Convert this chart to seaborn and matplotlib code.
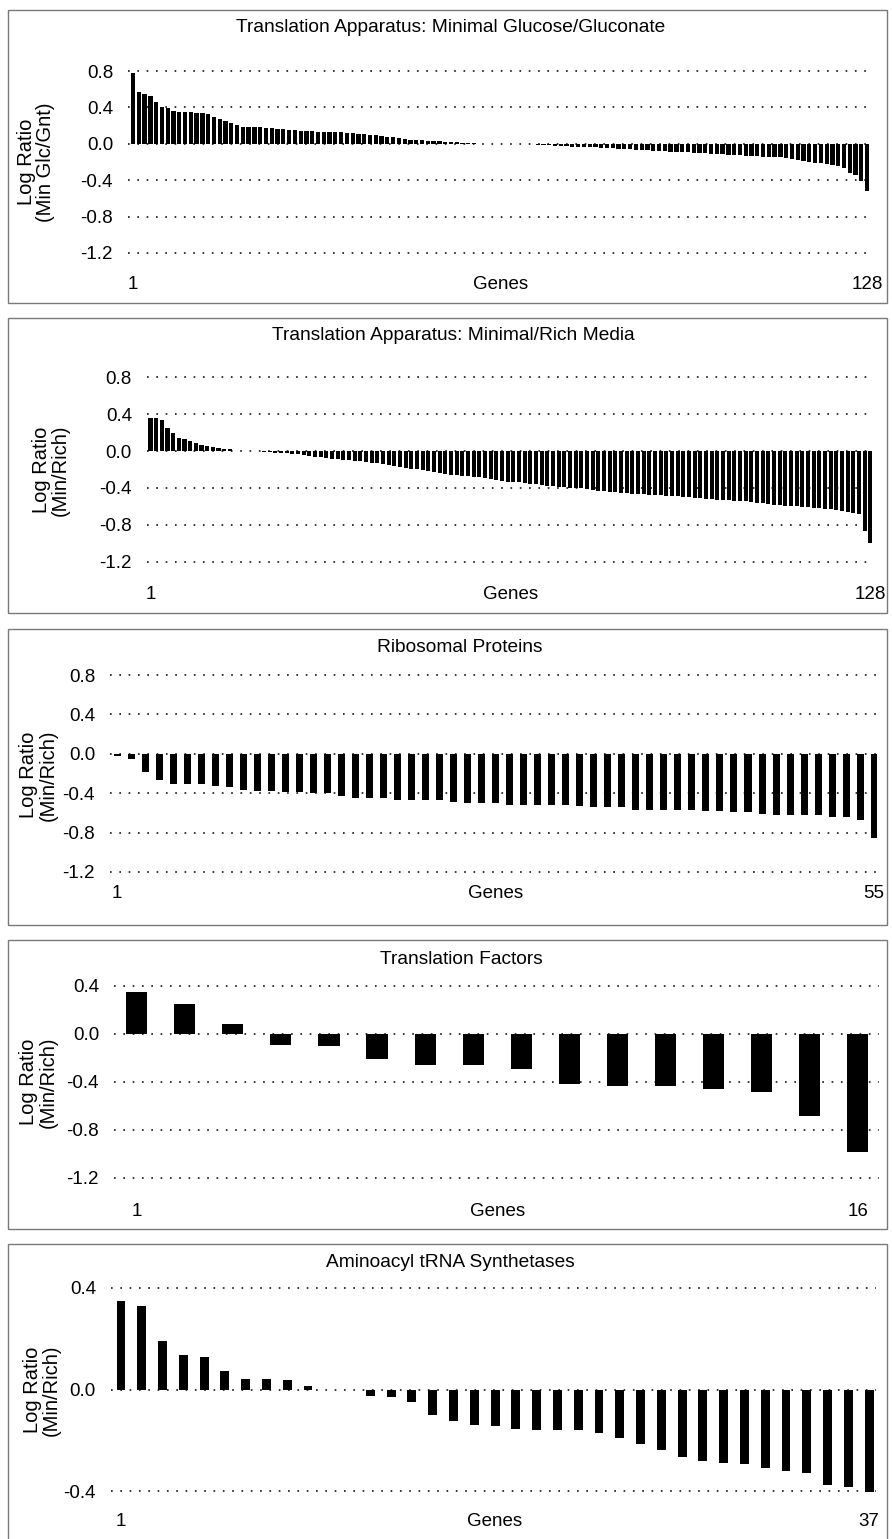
import matplotlib
matplotlib.use('Agg')
import matplotlib.pyplot as plt
import matplotlib.transforms as mtransforms
from matplotlib.patches import Rectangle
import seaborn as sns
import pandas as pd

# ---------------- data ----------------
glc_gnt_title = "Translation Apparatus: Minimal Glucose/Gluconate"
glc_gnt_values = [
    0.78, 0.57, 0.55, 0.53, 0.46, 0.41, 0.39, 0.36, 0.35, 0.35,
    0.35, 0.34, 0.34, 0.33, 0.29, 0.27, 0.25, 0.23, 0.21, 0.19,
    0.19, 0.18, 0.18, 0.17, 0.17, 0.16, 0.16, 0.15, 0.15, 0.14,
    0.14, 0.14, 0.13, 0.13, 0.13, 0.13, 0.13, 0.12, 0.12, 0.11,
    0.11, 0.10, 0.10, 0.09, 0.08, 0.07, 0.06, 0.05, 0.04, 0.04,
    0.04, 0.03, 0.03, 0.03, 0.02, 0.02, 0.02, 0.01, 0.01, 0.01,
    0.0, 0.0, 0.0, 0.0, 0.0, 0.0, 0.0, 0.0, 0.0,
    -0.005, -0.01, -0.01, -0.015, -0.02, -0.02, -0.025, -0.03, -0.03, -0.035,
    -0.04, -0.04, -0.045, -0.05, -0.05, -0.055, -0.06, -0.06, -0.065, -0.07,
    -0.07, -0.075, -0.08, -0.08, -0.085, -0.09, -0.09, -0.095, -0.10, -0.10,
    -0.105, -0.11, -0.11, -0.115, -0.12, -0.12, -0.125, -0.13, -0.13, -0.135,
    -0.14, -0.14, -0.145, -0.15, -0.16, -0.17, -0.18, -0.19, -0.20, -0.21,
    -0.21, -0.22, -0.23, -0.24, -0.27, -0.32, -0.34, -0.41, -0.52,
]

min_rich_title = "Translation Apparatus: Minimal/Rich Media"
min_rich_values = [
    0.36, 0.36, 0.33, 0.25, 0.20, 0.14, 0.13, 0.11, 0.09, 0.06,
    0.05, 0.04, 0.03, 0.02, 0.02,
    0.0, 0.0, 0.0, 0.0, 0.0,
    -0.01, -0.015, -0.02, -0.02, -0.025, -0.03, -0.035, -0.04, -0.05, -0.06,
    -0.07, -0.08, -0.085, -0.09, -0.095, -0.10, -0.105, -0.11, -0.12, -0.125,
    -0.13, -0.14, -0.15, -0.16, -0.17, -0.18, -0.19, -0.20, -0.21, -0.22,
    -0.23, -0.24, -0.25, -0.255, -0.26, -0.265, -0.27, -0.28, -0.285, -0.29,
    -0.30, -0.31, -0.32, -0.33, -0.335, -0.34, -0.35, -0.355, -0.36, -0.37,
    -0.375, -0.38, -0.385, -0.39, -0.395, -0.40, -0.405, -0.41, -0.42, -0.43,
    -0.435, -0.44, -0.445, -0.45, -0.455, -0.46, -0.465, -0.47, -0.475, -0.48,
    -0.48, -0.485, -0.49, -0.49, -0.495, -0.50, -0.505, -0.51, -0.515, -0.52,
    -0.525, -0.53, -0.535, -0.54, -0.54, -0.545, -0.55, -0.56, -0.565, -0.57,
    -0.58, -0.585, -0.59, -0.595, -0.60, -0.605, -0.61, -0.615, -0.62, -0.625,
    -0.63, -0.64, -0.65, -0.66, -0.67, -0.68, -0.86, -0.99,
]

ribo_title = "Ribosomal Proteins"
ribo_values = [
    -0.02, -0.05, -0.18, -0.27, -0.31, -0.31, -0.31, -0.33, -0.34, -0.37,
    -0.38, -0.38, -0.39, -0.39, -0.40, -0.40, -0.43, -0.45, -0.45, -0.45,
    -0.47, -0.47, -0.47, -0.47, -0.49, -0.50, -0.50, -0.50, -0.52, -0.52,
    -0.52, -0.52, -0.52, -0.53, -0.54, -0.54, -0.54, -0.57, -0.57, -0.57,
    -0.57, -0.57, -0.58, -0.58, -0.59, -0.59, -0.61, -0.62, -0.62, -0.62,
    -0.62, -0.64, -0.64, -0.67, -0.86,
]

tf_title = "Translation Factors"
tf_values = [0.35, 0.25, 0.08, -0.09, -0.10, -0.21, -0.26, -0.26, -0.29,
             -0.42, -0.43, -0.43, -0.46, -0.48, -0.68, -0.98]

trna_title = "Aminoacyl tRNA Synthetases"
trna_values = [
    0.35, 0.33, 0.19, 0.135, 0.127, 0.072, 0.043, 0.043, 0.037, 0.015,
    0.0, 0.0, -0.025, -0.03, -0.05, -0.10, -0.125, -0.14, -0.145, -0.155,
    -0.16, -0.16, -0.16, -0.17, -0.19, -0.215, -0.24, -0.265, -0.28, -0.29,
    -0.295, -0.31, -0.32, -0.33, -0.375, -0.385, -0.405,
]

ylabel_glc = "Log Ratio\n(Min Glc/Gnt)"
ylabel_rich = "Log Ratio\n(Min/Rich)"
x_axis_label = "Genes"
ticks_full = [0.8, 0.4, 0.0, -0.4, -0.8, -1.2]
ticks_tf = [0.4, 0.0, -0.4, -0.8, -1.2]
ticks_trna = [0.4, 0.0, -0.4]

# ---------------- layout (pixels) ----------------
W, H = 892, 1539
sns.set_style('white')
plt.rcParams['font.family'] = ['Liberation Sans', 'DejaVu Sans']
plt.rcParams['text.color'] = 'black'
plt.rcParams['axes.labelcolor'] = 'black'
plt.rcParams['xtick.color'] = 'black'
plt.rcParams['ytick.color'] = 'black'

fig = plt.figure(figsize=(W / 100, H / 100), dpi=100)
fig.patch.set_facecolor('white')

panels = [
    dict(title=glc_gnt_title, vals=glc_gnt_values, ylabel=ylabel_glc, ticks=ticks_full,
         box=(128, 870, 66.5, 257.5), ylim=(-1.25, 0.85), xlim=(-0.87, 127.5), width=0.74,
         frame=(8, 887, 10, 303), title_xy=(451, 27.5), ylab_xy=(36, 162), xlab_y=284.5),
    dict(title=min_rich_title, vals=min_rich_values, ylabel=ylabel_rich, ticks=ticks_full,
         box=(147, 873, 372.4, 566.6), ylim=(-1.25, 0.85), xlim=(-0.62, 127.45), width=0.72,
         frame=(8, 887, 318, 613), title_xy=(453, 335.5), ylab_xy=(51, 470), xlab_y=594.5),
    dict(title=ribo_title, vals=ribo_values, ylabel=ylabel_rich, ticks=ticks_full,
         box=(110, 877, 670.1, 876.9), ylim=(-1.25, 0.85), xlim=(-0.5, 54.2), width=0.5,
         frame=(8, 887, 629, 925), title_xy=(460, 647), ylab_xy=(38.5, 775), xlab_y=893),
    dict(title=tf_title, vals=tf_values, ylabel=ylabel_rich, ticks=ticks_tf,
         box=(114, 879, 980, 1184), ylim=(-1.25, 0.45), xlim=(-0.47, 15.44), width=0.44,
         frame=(8, 887, 940, 1229), title_xy=(461, 959.5), ylab_xy=(38.5, 1082), xlab_y=1211),
    dict(title=trna_title, vals=trna_values, ylabel=ylabel_rich, ticks=ticks_trna,
         box=(111, 876, 1282.9, 1496.1), ylim=(-0.42, 0.42), xlim=(-0.48, 36.33), width=0.43,
         frame=(8, 887, 1244, 1560), title_xy=(450, 1262.5), ylab_xy=(42, 1390), xlab_y=1522),
]

FS_TICK = 13.5
FS_TITLE = 13.8
FS_YLAB = 14.5


def fx(x):
    return x / W


def fy(y):
    return 1 - y / H


for p in panels:
    x0, x1, y0, y1 = p['box']
    ax = fig.add_axes([fx(x0), fy(y1), (x1 - x0) / W, (y1 - y0) / H])
    n = len(p['vals'])
    df = pd.DataFrame({'gene': list(range(n)), 'ratio': p['vals']})
    sns.barplot(data=df, x='gene', y='ratio', color='black', saturation=1,
                width=p['width'], errorbar=None, linewidth=0, ax=ax, zorder=3)
    ax.set_xlim(*p['xlim'])
    ax.set_ylim(*p['ylim'])
    ax.set_xlabel('')
    ax.set_ylabel('')
    ax.set_facecolor('none')
    for s in ax.spines.values():
        s.set_visible(False)
    ax.set_yticks(p['ticks'])
    ax.set_yticklabels([f"{t:.1f}".replace('-0.0', '0.0') for t in p['ticks']],
                       fontsize=FS_TICK, color='black')
    ax.tick_params(axis='y', length=0, pad=10.8, colors='black')
    ax.set_xticks([])
    ax.yaxis.grid(True, linestyle=(0, (1.1, 5.0)), color='black', linewidth=1.1, zorder=1)
    ax.xaxis.grid(False)
    ax.set_axisbelow(True)

    # x annotations: first gene, axis name, last gene
    tr = mtransforms.blended_transform_factory(ax.transData, fig.transFigure)
    yl = fy(p['xlab_y'])
    ax.text(0, yl, '1', transform=tr, ha='center', va='center', fontsize=FS_TICK, color='black')
    ax.text((n - 1) / 2, yl, x_axis_label, transform=tr, ha='center', va='center',
            fontsize=FS_TICK, color='black')
    ax.text(n - 1, yl, str(n), transform=tr, ha='center', va='center', fontsize=FS_TICK,
            color='black')

    # title and y label
    tx, ty = p['title_xy']
    fig.text(fx(tx), fy(ty), p['title'], ha='center', va='center', fontsize=FS_TITLE,
             color='black')
    lx, ly = p['ylab_xy']
    fig.text(fx(lx), fy(ly), p['ylabel'], rotation=90, ha='center', va='center',
             multialignment='center', linespacing=1.0, fontsize=FS_YLAB, color='black')

    # panel frame
    f0, f1, g0, g1 = p['frame']
    fig.add_artist(Rectangle((fx(f0), fy(g1)), (f1 - f0) / W, (g1 - g0) / H,
                             transform=fig.transFigure, fill=False,
                             edgecolor='#7a7a7a', linewidth=1.0))

fig.savefig('out.png', dpi=100, facecolor='white')
